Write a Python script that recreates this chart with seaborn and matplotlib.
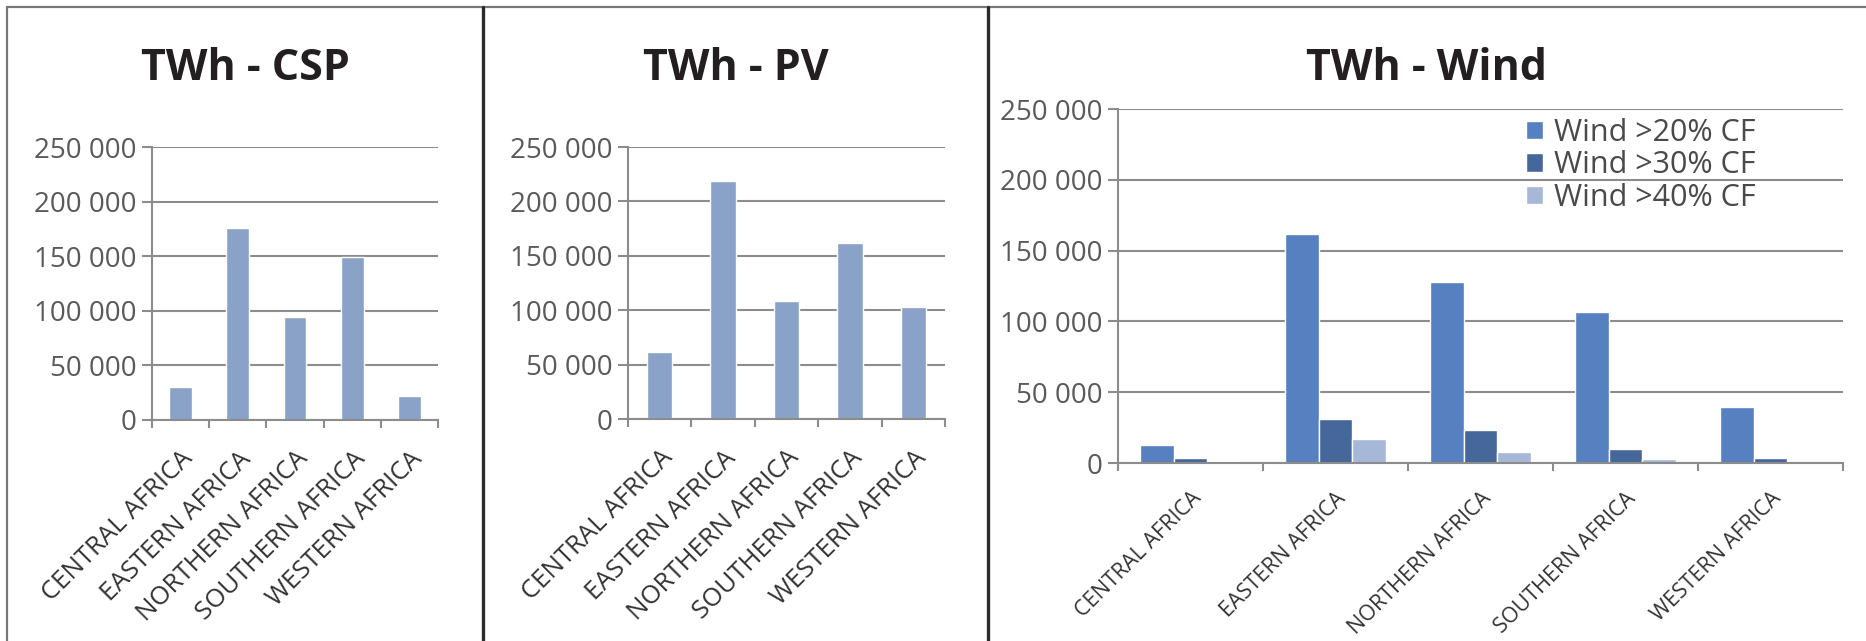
import matplotlib
matplotlib.use("Agg")
import matplotlib.pyplot as plt
from matplotlib.lines import Line2D
from matplotlib.ticker import FuncFormatter, FixedLocator
import pandas as pd
import seaborn as sns

regions = ["CENTRAL AFRICA", "EASTERN AFRICA", "NORTHERN AFRICA", "SOUTHERN AFRICA", "WESTERN AFRICA"]
csp_twh = [30000, 176000, 94000, 149000, 22000]
pv_twh = [61500, 219000, 108500, 162000, 103000]
wind_20 = [13000, 161500, 127500, 106500, 39500]
wind_30 = [3500, 31000, 23000, 10000, 3500]
wind_40 = [1500, 17000, 7500, 2500, 1000]
wind_series = ["Wind >20% CF", "Wind >30% CF", "Wind >40% CF"]

bar_col = "#8aa2c8"
wind_cols = ["#5680bf", "#46679a", "#a6b7d7"]
grid_col = "#8c8c8c"
tick_col = "#5a5a5a"

sns.set_style("white")
plt.rcParams["font.family"] = ["Open Sans", "DejaVu Sans"]

W, H = 1866, 641
fig = plt.figure(figsize=(W / 100, H / 100), dpi=100)


def px_axes(l, r, t, b):
    return fig.add_axes([l / W, 1 - b / H, (r - l) / W, (b - t) / H])


def fmt(v, pos):
    return f"{int(v):,}".replace(",", " ")


def style(ax, label_size, label_pad):
    ax.set_ylim(0, 250000)
    ax.set_xlim(-0.5, 4.5)
    ax.set_yticks(range(0, 250001, 50000))
    ax.yaxis.set_major_formatter(FuncFormatter(fmt))
    ax.grid(axis="y", color=grid_col, lw=1.5)
    ax.set_axisbelow(True)
    for s in ["top", "right"]:
        ax.spines[s].set_visible(False)
    for s in ["left", "bottom"]:
        ax.spines[s].set_color(grid_col)
        ax.spines[s].set_linewidth(1.5)
    ax.tick_params(axis="y", direction="out", length=7, width=1.5, color=grid_col,
                   labelsize=20, labelcolor=tick_col, pad=4, left=True)
    ax.set_xticks(range(len(regions)))
    ax.set_xticklabels(regions, rotation=45, ha="right", rotation_mode="anchor",
                       fontsize=label_size, color="#333333")
    ax.tick_params(axis="x", length=0, pad=label_pad)
    ax.xaxis.set_minor_locator(FixedLocator([i - 0.5 for i in range(len(regions) + 1)]))
    ax.tick_params(axis="x", which="minor", direction="out", length=6, width=1.5,
                   color=grid_col, bottom=True)
    ax.set_xlabel("")
    ax.set_ylabel("")


# CSP
ax1 = px_axes(152, 438, 147, 420)
sns.barplot(x=regions, y=csp_twh, color=bar_col, width=0.4, ax=ax1, saturation=1)
style(ax1, 18.5, 19)

# PV
ax2 = px_axes(628, 945, 147, 419)
sns.barplot(x=regions, y=pv_twh, color=bar_col, width=0.4, ax=ax2, saturation=1)
style(ax2, 18.5, 19)

# Wind
df_wind = pd.DataFrame({
    "region": regions * 3,
    "series": sum([[s] * len(regions) for s in wind_series], []),
    "twh": wind_20 + wind_30 + wind_40,
})
ax3 = px_axes(1118, 1843, 109, 463)
sns.barplot(data=df_wind, x="region", y="twh", hue="series", palette=wind_cols,
            width=0.7, ax=ax3, saturation=1)
style(ax3, 15.5, 18)
handles, labels = ax3.get_legend_handles_labels()
ax3.legend(handles, labels, loc="upper left", bbox_to_anchor=(1526 / W, 1 - 118 / H),
           bbox_transform=fig.transFigure, frameon=False, fontsize=22,
           handlelength=0.55, handleheight=0.55, handletextpad=0.35,
           labelspacing=0.08, borderpad=0, borderaxespad=0, labelcolor="#4a4a4a")

# titles centred on each panel
title_kw = dict(fontsize=31, fontweight="bold", color="#231f20", ha="center", va="center")
fig.text(245 / W, 1 - 68 / H, "TWh - CSP", **title_kw)
fig.text(736 / W, 1 - 68 / H, "TWh - PV", **title_kw)
fig.text(1427 / W, 1 - 68 / H, "TWh - Wind", **title_kw)

# panel frames
fig.add_artist(Line2D([7 / W, 1], [1 - 7 / H, 1 - 7 / H], transform=fig.transFigure,
                      color="#777777", lw=1.6))
fig.add_artist(Line2D([7 / W, 7 / W], [0, 1 - 7 / H], transform=fig.transFigure,
                      color="#777777", lw=1.6))
for xd in [483, 988]:
    fig.add_artist(Line2D([xd / W, xd / W], [0, 1 - 7 / H], transform=fig.transFigure,
                          color="#2a2a2a", lw=2.4))

fig.savefig("out.png", dpi=100)
